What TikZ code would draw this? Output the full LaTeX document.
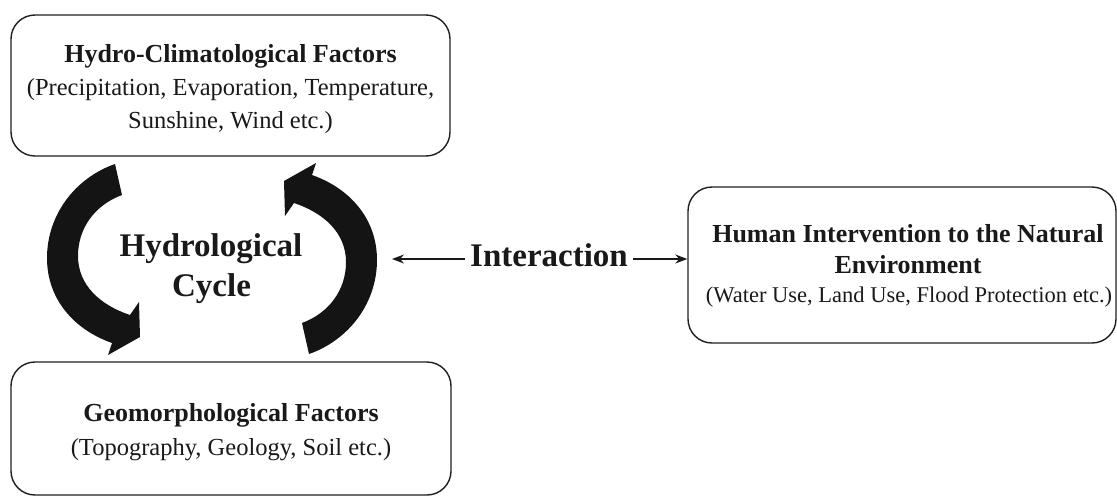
\documentclass[tikz,border=0pt]{standalone}
\usepackage{fontspec}
\setmainfont{Liberation Serif}
\usetikzlibrary{arrows.meta}
\begin{document}
\begin{tikzpicture}[x=1pt,y=-1pt,
  box/.style={draw=black!88, line width=1.4pt, rounded corners=24pt, inner sep=0pt},
  ttl/.style={font=\fontsize{26}{30}\selectfont\bfseries, text=black!90, anchor=base, inner sep=0pt},
  sub/.style={font=\fontsize{24.5}{30}\selectfont, text=black!90, anchor=base, inner sep=0pt},
  big/.style={font=\fontsize{33}{38}\selectfont\bfseries, text=black!90, anchor=base, inner sep=0pt},
  arr/.style={draw=black!90, line width=1.3pt, -{Stealth[length=12pt,width=9pt]}},
  cyclearrow/.pic={
    \fill[black!92] (115,164) .. controls (75,178) and (47,215) .. (47,258)
      .. controls (47,300) and (75,330) .. (112,343)
      -- (108,355) -- (140,337) -- (139,302) -- (130,315)
      .. controls (100,305) and (78,285) .. (78,256)
      .. controls (78,228) and (95,205) .. (122,195)
      -- cycle;
  }
]
\useasboundingbox (0,0) rectangle (1117,496);

% Hydro-climatological box
\node[box, minimum width=439pt, minimum height=141pt] (hc) at (230.5,85.5) {};
\node[ttl] (hct) at (230.5,62) {Hydro-Climatological Factors};
\node[sub] (hcs1) at (230.5,95) {(Precipitation, Evaporation, Temperature,};
\node[sub] (hcs2) at (230.5,128) {Sunshine, Wind etc.)};

% Geomorphological box
\node[box, minimum width=440pt, minimum height=133pt] (geo) at (231,428.5) {};
\node[ttl] (geot) at (231,421) {Geomorphological Factors};
\node[sub] (geos) at (231,455) {(Topography, Geology, Soil etc.)};

% Human intervention box
\node[box, minimum width=428pt, minimum height=156pt] (hum) at (902,265) {};
\node[ttl] (humt1) at (908,242) {Human Intervention to the Natural};
\node[ttl] (humt2) at (908,273) {Environment};
\node[sub, font=\fontsize{22.5}{27}\selectfont] (hums) at (909,302) {(Water Use, Land Use, Flood Protection etc.)};

% Hydrological cycle
\pic at (0,0) {cyclearrow};
\pic[rotate=180] at (424,518) {cyclearrow};
\node[big] (hy1) at (211,256) {Hydrological};
\node[big] (hy2) at (211.5,296) {Cycle};

% Interaction
\node[big, inner sep=5pt] (inter) at (549,266) {Interaction};
\coordinate (ltip) at (392,259);
\draw[arr] (inter.west |- ltip) -- (ltip);
\draw[arr] (inter.east |- ltip) -- (hum.west |- ltip);
\end{tikzpicture}
\end{document}
